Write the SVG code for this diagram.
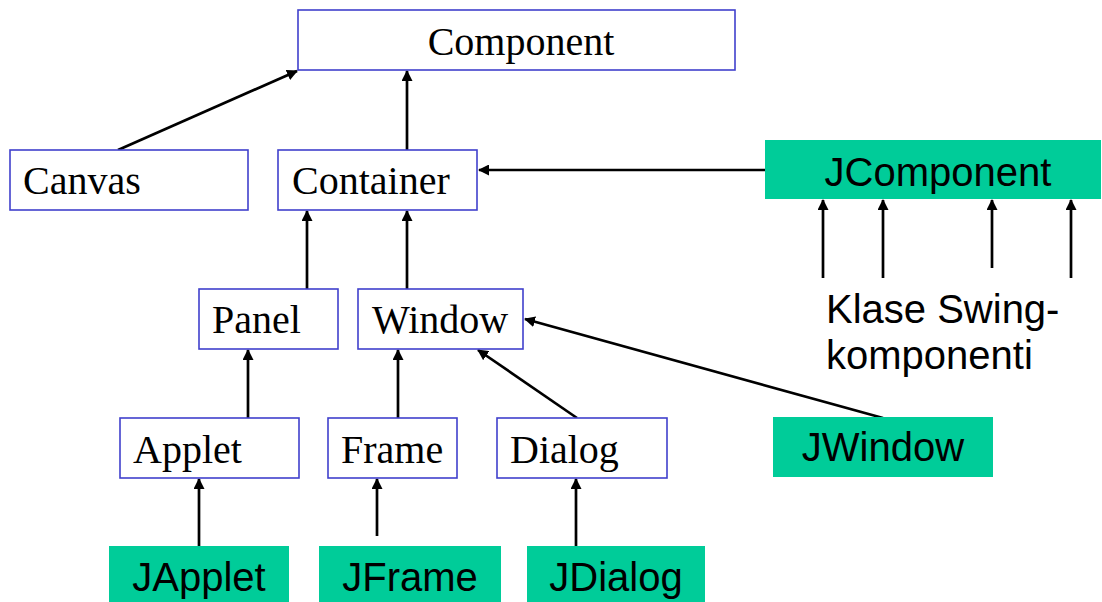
<svg xmlns="http://www.w3.org/2000/svg" width="1102" height="602" viewBox="0 0 1102 602">
<style>
.awt{fill:#fff;stroke:#4040CC;stroke-width:1.6}
.sw{fill:#00CC99;stroke:none}
.tt{font-family:"Liberation Serif","Times New Roman",serif;font-size:40px;fill:#000}
.ts{font-family:"Liberation Sans",Arial,sans-serif;font-size:40px;fill:#000}
.c{text-anchor:middle}
.ln{stroke:#000;stroke-width:2.7;fill:none;marker-end:url(#ah)}
</style>
<defs>
<marker id="ah" markerWidth="11" markerHeight="11" refX="10" refY="5.5" orient="auto" markerUnits="userSpaceOnUse" viewBox="0 0 11 11">
<path d="M0,0 L11,5.5 L0,11 Z" fill="#000"/>
</marker>
</defs>
<rect width="1102" height="602" fill="#fff"/>
<g id="connectors">
<line class="ln" x1="118" y1="150" x2="297" y2="71"/>
<line class="ln" x1="407" y1="150" x2="407" y2="71"/>
<line class="ln" x1="765" y1="170" x2="479" y2="170"/>
<line class="ln" x1="307" y1="289" x2="307" y2="211"/>
<line class="ln" x1="407" y1="289" x2="407" y2="211"/>
<line class="ln" x1="248" y1="418" x2="248" y2="350"/>
<line class="ln" x1="398" y1="418" x2="398" y2="350"/>
<line class="ln" x1="577" y1="418" x2="478" y2="350"/>
<line class="ln" x1="883" y1="418" x2="525" y2="319"/>
<line class="ln" x1="199" y1="546" x2="199" y2="479"/>
<line class="ln" x1="377" y1="536" x2="377" y2="479"/>
<line class="ln" x1="576" y1="546" x2="576" y2="479"/>
<line class="ln" x1="823" y1="278" x2="823" y2="200"/>
<line class="ln" x1="883" y1="278" x2="883" y2="200"/>
<line class="ln" x1="992" y1="268" x2="992" y2="200"/>
<line class="ln" x1="1071" y1="278" x2="1071" y2="200"/>
</g>
<g id="component"><rect class="awt" x="298" y="10" width="437" height="60"/><text class="tt c" x="521" y="55">Component</text></g>
<g id="canvas"><rect class="awt" x="10" y="150" width="238" height="60"/><text class="tt" x="23" y="194">Canvas</text></g>
<g id="container"><rect class="awt" x="278" y="150" width="199" height="60"/><text class="tt" x="292" y="194">Container</text></g>
<g id="jcomponent"><rect class="sw" x="765" y="140" width="336" height="59"/><text class="ts c" x="938" y="186">JComponent</text></g>
<g id="panel"><rect class="awt" x="199" y="289" width="139" height="60"/><text class="tt" x="212" y="333">Panel</text></g>
<g id="window"><rect class="awt" x="358" y="289" width="165" height="60"/><text class="tt" x="372" y="333">Window</text></g>
<g id="swing-label"><text class="ts" x="826" y="323">Klase Swing-</text><text class="ts" x="826" y="369">komponenti</text></g>
<g id="applet"><rect class="awt" x="120" y="418" width="179" height="60"/><text class="tt" x="133" y="463">Applet</text></g>
<g id="frame"><rect class="awt" x="328" y="418" width="129" height="60"/><text class="tt" x="341" y="463">Frame</text></g>
<g id="dialog"><rect class="awt" x="497" y="418" width="170" height="60"/><text class="tt" x="510" y="463">Dialog</text></g>
<g id="jwindow"><rect class="sw" x="773" y="417" width="220" height="60"/><text class="ts c" x="883" y="461">JWindow</text></g>
<g id="japplet"><rect class="sw" x="109" y="546" width="180" height="56"/><text class="ts c" x="199" y="591">JApplet</text></g>
<g id="jframe"><rect class="sw" x="319" y="546" width="182" height="56"/><text class="ts c" x="410" y="591">JFrame</text></g>
<g id="jdialog"><rect class="sw" x="527" y="546" width="178" height="56"/><text class="ts c" x="616" y="591">JDialog</text></g>
</svg>
